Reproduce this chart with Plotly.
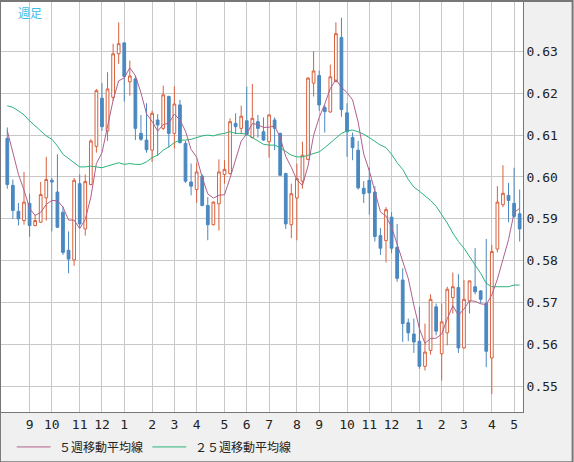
import plotly.graph_objects as go
import pandas as pd

# weekly OHLC
opens = [0.6092, 0.5980, 0.5918, 0.5896, 0.5937, 0.5884, 0.5892, 0.5950, 0.5992, 0.5964,
         0.5916, 0.5825, 0.5802, 0.5984, 0.5876, 0.5982, 0.6073, 0.6188, 0.6110, 0.6190,
         0.6294, 0.6320, 0.6227, 0.6234, 0.6104, 0.6088, 0.6064, 0.6136, 0.6116, 0.6192,
         0.6104, 0.6172, 0.6080, 0.5988, 0.5970, 0.6002, 0.5932, 0.5886, 0.5936, 0.6006,
         0.6008, 0.6128, 0.6116, 0.6134, 0.6094, 0.6132, 0.6108, 0.6084, 0.6136, 0.6104,
         0.6008, 0.5886, 0.5950, 0.5990, 0.6042, 0.6224, 0.6242, 0.6166, 0.6155, 0.6228,
         0.6333, 0.6153, 0.6094, 0.6064, 0.5973, 0.5992, 0.5964, 0.5860, 0.5848, 0.5904,
         0.5832, 0.5754, 0.5652, 0.5625, 0.5608, 0.5548, 0.5586, 0.5690, 0.5578, 0.5628,
         0.5712, 0.5736, 0.5592, 0.5704, 0.5738, 0.5728, 0.5698, 0.5568, 0.5828, 0.5934,
         0.5956, 0.5937, 0.5912]
highs = [0.6118, 0.5994, 0.5938, 0.6012, 0.5960, 0.5910, 0.5988, 0.6048, 0.5998, 0.6054,
         0.5930, 0.5870, 0.5998, 0.6006, 0.6006, 0.6090, 0.6210, 0.6224, 0.6250, 0.6318,
         0.6369, 0.6322, 0.6278, 0.6242, 0.6148, 0.6176, 0.6158, 0.6150, 0.6218, 0.6194,
         0.6216, 0.6184, 0.6086, 0.6032, 0.6034, 0.6006, 0.5952, 0.5942, 0.6042, 0.6040,
         0.6140, 0.6152, 0.6170, 0.6216, 0.6222, 0.6148, 0.6142, 0.6150, 0.6142, 0.6106,
         0.6010, 0.5984, 0.6032, 0.6084, 0.6238, 0.6300, 0.6254, 0.6172, 0.6268, 0.6369,
         0.6380, 0.6176, 0.6106, 0.6086, 0.5990, 0.6022, 0.5978, 0.5878, 0.5928, 0.5916,
         0.5888, 0.5782, 0.5662, 0.5662, 0.5690, 0.5650, 0.5720, 0.5698, 0.5698, 0.5738,
         0.5772, 0.5768, 0.5754, 0.5752, 0.5830, 0.5730, 0.5852, 0.5838, 0.5978, 0.6028,
         0.5986, 0.6022, 0.5970]
lows = [0.5972, 0.5900, 0.5884, 0.5886, 0.5857, 0.5882, 0.5890, 0.5896, 0.5870, 0.5878,
        0.5814, 0.5770, 0.5788, 0.5878, 0.5860, 0.5980, 0.6058, 0.6110, 0.6086, 0.6182,
        0.6270, 0.6180, 0.6194, 0.6088, 0.6086, 0.6058, 0.6036, 0.6050, 0.6112, 0.6070,
        0.6068, 0.6080, 0.5986, 0.5956, 0.5938, 0.5930, 0.5849, 0.5884, 0.5872, 0.5984,
        0.6006, 0.6102, 0.6102, 0.6098, 0.6092, 0.6094, 0.6086, 0.6046, 0.6064, 0.6002,
        0.5876, 0.5854, 0.5849, 0.5972, 0.6040, 0.6192, 0.6158, 0.6106, 0.6154, 0.6226,
        0.6144, 0.6048, 0.6040, 0.5970, 0.5938, 0.5910, 0.5846, 0.5814, 0.5796, 0.5818,
        0.5750, 0.5606, 0.5608, 0.5580, 0.5542, 0.5538, 0.5576, 0.5622, 0.5514, 0.5598,
        0.5674, 0.5580, 0.5590, 0.5674, 0.5720, 0.5698, 0.5546, 0.5482, 0.5820, 0.5928,
        0.5892, 0.5902, 0.5846]
closes = [0.5982, 0.5920, 0.5900, 0.5940, 0.5884, 0.5896, 0.5958, 0.5994, 0.5988, 0.5880,
          0.5820, 0.5804, 0.5992, 0.5888, 0.5989, 0.6086, 0.6206, 0.6120, 0.6210, 0.6294,
          0.6318, 0.6240, 0.6241, 0.6116, 0.6090, 0.6065, 0.6152, 0.6124, 0.6196, 0.6104,
          0.6174, 0.6082, 0.5990, 0.5978, 0.6012, 0.5932, 0.5886, 0.5940, 0.6012, 0.6018,
          0.6132, 0.6120, 0.6145, 0.6102, 0.6140, 0.6116, 0.6088, 0.6148, 0.6116, 0.6004,
          0.5888, 0.5960, 0.5996, 0.6052, 0.6236, 0.6253, 0.6172, 0.6156, 0.6239, 0.6342,
          0.6161, 0.6108, 0.6070, 0.5974, 0.5960, 0.5962, 0.5858, 0.5830, 0.5922, 0.5830,
          0.5758, 0.5650, 0.5628, 0.5606, 0.5548, 0.5582, 0.5708, 0.5632, 0.5654, 0.5732,
          0.5738, 0.5592, 0.5708, 0.5752, 0.5726, 0.5708, 0.5584, 0.5822, 0.5940, 0.5961,
          0.5944, 0.5906, 0.5876]
# closes of the weeks just before the window, so the 5-week line starts like the chart
prior_closes = [0.6180, 0.6160, 0.6130, 0.6100]
# 25-week average as drawn (its history starts before the visible window)
ma25 = [0.6170, 0.6166, 0.6158, 0.6148, 0.6134, 0.6122, 0.6108, 0.6098, 0.6090, 0.6074,
        0.6054, 0.6044, 0.6036, 0.6024, 0.6024, 0.6026, 0.6024, 0.6022, 0.6026, 0.6030,
        0.6034, 0.6030, 0.6032, 0.6030, 0.6030, 0.6036, 0.6046, 0.6052, 0.6064, 0.6072,
        0.6082, 0.6088, 0.6088, 0.6090, 0.6094, 0.6098, 0.6100, 0.6098, 0.6102, 0.6104,
        0.6108, 0.6104, 0.6104, 0.6102, 0.6094, 0.6086, 0.6078, 0.6076, 0.6076, 0.6070,
        0.6060, 0.6052, 0.6048, 0.6048, 0.6052, 0.6056, 0.6060, 0.6070, 0.6082, 0.6094,
        0.6104, 0.6110, 0.6112, 0.6108, 0.6102, 0.6094, 0.6084, 0.6076, 0.6070, 0.6054,
        0.6034, 0.6018, 0.5994, 0.5976, 0.5966, 0.5956, 0.5944, 0.5930, 0.5910, 0.5890,
        0.5866, 0.5846, 0.5830, 0.5810, 0.5788, 0.5770, 0.5746, 0.5738, 0.5738, 0.5738,
        0.5738, 0.5742, 0.5742]
month_idx = [4, 8, 13, 17, 21, 26, 30, 34, 39, 43, 47, 52, 56, 61, 65, 69, 74, 78, 82, 87, 91]
month_labels = ["9", "10", "11", "12", "1", "2", "3", "4", "5", "6", "7", "8",
                "9", "10", "11", "12", "1", "2", "3", "4", "5"]
price_ticks = [0.55, 0.56, 0.57, 0.58, 0.59, 0.60, 0.61, 0.62, 0.63]

x = list(range(len(closes)))
ma5 = pd.Series(prior_closes + closes).rolling(5).mean().iloc[len(prior_closes):].tolist()

UP = "#d9613e"
DOWN = "#4a88c0"
MA5_COLOR = "#b0608c"
MA25_COLOR = "#2bb37a"

fig = go.Figure()
fig.add_trace(go.Candlestick(
    x=x, open=opens, high=highs, low=lows, close=closes,
    increasing=dict(line=dict(color=UP, width=1), fillcolor="white"),
    decreasing=dict(line=dict(color=DOWN, width=1), fillcolor=DOWN),
    whiskerwidth=0, showlegend=False, hoverinfo="skip"
))
fig.add_trace(go.Scatter(x=x, y=ma25, mode="lines", line=dict(color=MA25_COLOR, width=1),
                         showlegend=False, hoverinfo="skip"))
fig.add_trace(go.Scatter(x=x, y=ma5, mode="lines", line=dict(color=MA5_COLOR, width=1),
                         showlegend=False, hoverinfo="skip"))

font = "DejaVu Sans Mono"
fig.update_layout(
    width=574, height=462,
    margin=dict(l=1, r=51, t=1, b=50),
    paper_bgcolor="#f0f0f0", plot_bgcolor="white",
    font=dict(family=font, size=12, color="#222"),
    xaxis=dict(range=[-1.13, 92.6], tickvals=month_idx, ticktext=month_labels,
               showgrid=True, gridcolor="#c8c8c8", gridwidth=1, ticks="",
               rangeslider=dict(visible=False), zeroline=False,
               showline=True, linecolor="#777", mirror=True, tickfont=dict(size=13)),
    yaxis=dict(range=[0.5439, 0.6420], side="right", tickvals=price_ticks,
               tickformat=".2f", showgrid=True, gridcolor="#c8c8c8", ticks="",
               zeroline=False, showline=True, linecolor="#777", mirror=True,
               tickfont=dict(size=13)),
    shapes=[
        dict(type="rect", xref="paper", yref="paper", x0=-0.002, x1=1.095, y0=-0.122, y1=1.0,
             line=dict(color="#777", width=2), fillcolor="rgba(0,0,0,0)"),
        dict(type="line", xref="paper", yref="paper", x0=0.03, x1=0.095, y0=-0.085, y1=-0.085,
             line=dict(color=MA5_COLOR, width=1)),
        dict(type="line", xref="paper", yref="paper", x0=0.29, x1=0.355, y0=-0.085, y1=-0.085,
             line=dict(color=MA25_COLOR, width=1)),
    ],
    annotations=[
        dict(text="週足", xref="paper", yref="paper", x=0.028, y=0.997, xanchor="left",
             yanchor="top", showarrow=False, font=dict(color="#3fbde8", size=12,
                                                       family="Noto Sans CJK JP")),
        dict(text="５週移動平均線", xref="paper", yref="paper", x=0.108, y=-0.085,
             xanchor="left", yanchor="middle", showarrow=False,
             font=dict(size=12, family="Noto Sans CJK JP")),
        dict(text="２５週移動平均線", xref="paper", yref="paper", x=0.368, y=-0.085,
             xanchor="left", yanchor="middle", showarrow=False,
             font=dict(size=12, family="Noto Sans CJK JP")),
    ],
)

fig.write_html("out.html", config={"displayModeBar": False},
               post_script="document.body.style.margin='0';")
